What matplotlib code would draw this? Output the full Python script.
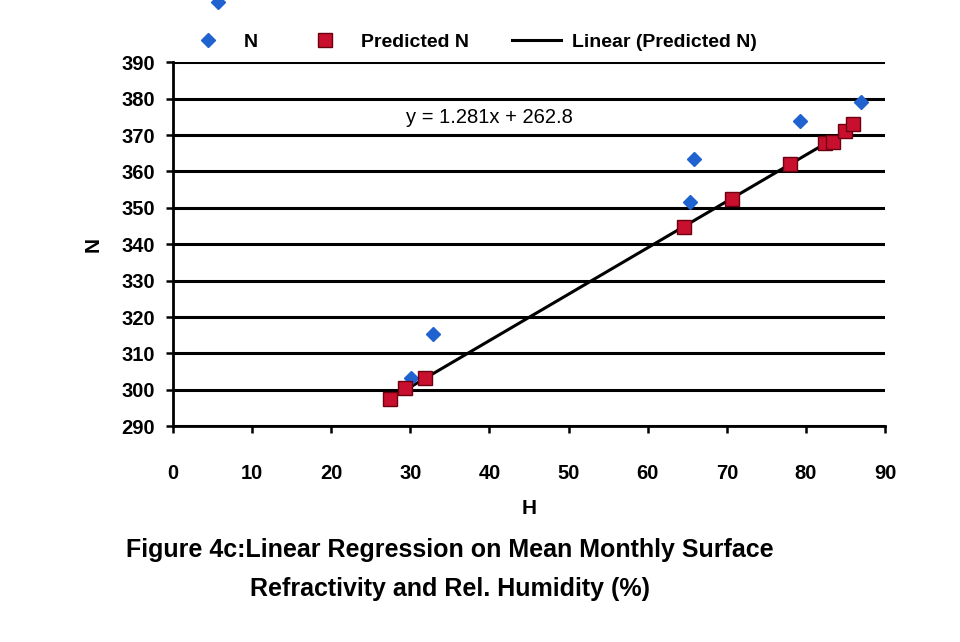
import numpy as np
import matplotlib
matplotlib.use("Agg")
import matplotlib.pyplot as plt

plt.rcParams['font.family'] = ['Liberation Sans Narrow', 'Liberation Sans', 'DejaVu Sans']

# humidity (H) and refractivity (N)
h_obs = [5.7, 30.1, 32.9, 65.4, 65.9, 79.2, 86.9]
n_obs = [406.5, 303.2, 315.3, 351.5, 363.4, 373.8, 379.0]

h_pred = [27.5, 29.4, 31.9, 64.6, 70.7, 78.0, 82.4, 83.4, 84.9, 85.9]
n_pred = [297.4, 300.4, 303.2, 344.7, 352.4, 362.0, 367.7, 368.0, 371.0, 373.0]

x_ticks = [0, 10, 20, 30, 40, 50, 60, 70, 80, 90]
y_ticks = [290, 300, 310, 320, 330, 340, 350, 360, 370, 380, 390]

fig = plt.figure(figsize=(9.6, 6.42), dpi=100)
ax = fig.add_axes([0.180, 0.336, 0.742, 0.567])

# grid lines
for yv in y_ticks:
    ax.axhline(yv, color="black", lw=2.2, zorder=1)

ax.plot(h_obs, n_obs, linestyle="none", marker="D", markersize=7,
        color="#1f62d0", markeredgecolor="#1f62d0", label="N", zorder=3, clip_on=False)
ax.plot(h_pred, n_pred, linestyle="none", marker="s", markersize=10,
        color="#c8102e", markeredgecolor="#6a0010", label="Predicted N", zorder=4)

slope, inter = np.polyfit(h_pred, n_pred, 1)
xs = np.array([min(h_pred), max(h_pred)])
ax.plot(xs, slope * xs + inter, color="black", lw=2.2, label="Linear (Predicted N)", zorder=2)

ax.text(29.5, 373.3, "y = 1.281x + 262.8", fontsize=14.5)

ax.set_xlim(0, 90)
ax.set_ylim(290, 390)
ax.set_xticks(x_ticks)
ax.set_yticks(y_ticks)
ax.tick_params(labelsize=14.5, width=1.8, length=5)
for lab in ax.get_xticklabels() + ax.get_yticklabels():
    lab.set_fontweight("bold")
ax.tick_params(axis="x", pad=22)
ax.tick_params(axis="y", pad=8)
ax.spines["top"].set_visible(False)
ax.spines["right"].set_visible(False)
ax.spines["left"].set_linewidth(2)
ax.spines["bottom"].set_linewidth(2)

ax.set_xlabel("H", fontsize=15, fontweight="bold", labelpad=12)
ax.set_ylabel("N", fontsize=15, fontweight="bold", labelpad=13)

fig.legend(loc="center", bbox_to_anchor=(0.49, 0.935), ncol=3, frameon=False,
           prop={"size": 14, "weight": "bold"}, handlelength=2.5, handletextpad=0.6,
           columnspacing=2.2)

fig.text(0.469, 0.113, "Figure 4c:Linear Regression on Mean Monthly Surface\nRefractivity and Rel. Humidity (%)",
         ha="center", va="center", fontsize=18, fontweight="bold", linespacing=1.75)

fig.savefig("out.png", dpi=100)
